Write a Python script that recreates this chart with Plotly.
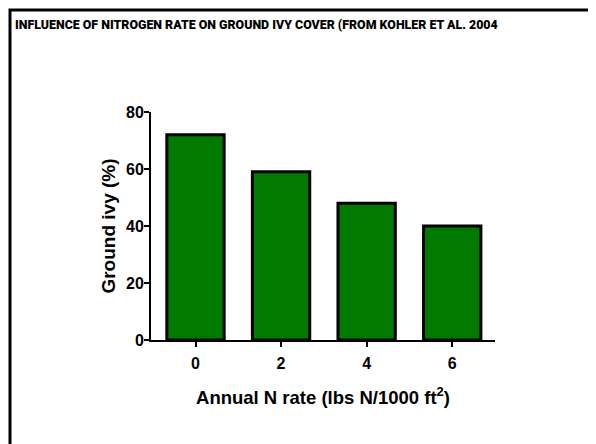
import plotly.graph_objects as go

categories = ["0", "2", "4", "6"]
ivy_cover = [72, 59, 48, 40]
y_ticks = [0, 20, 40, 60, 80]

# page body has an 8px default margin; positions below are screen pixels
OFF = 8
W, H = 596 - OFF, 444 - OFF

def fx(x):  # screen x -> paper fraction
    return (x - OFF) / W

def fy(y):  # screen y -> paper fraction (from bottom)
    return 1 - (y - OFF) / H

fig = go.Figure()
fig.add_trace(go.Bar(
    x=list(range(len(categories))), y=ivy_cover, width=0.67,
    marker=dict(color="#007a00", line=dict(color="black", width=3)),
))

fig.update_layout(
    width=W, height=H, margin=dict(l=0, r=0, t=0, b=0, autoexpand=False),
    plot_bgcolor="rgba(0,0,0,0)", paper_bgcolor="white", showlegend=False,
    font=dict(family="Liberation Sans, Arial", color="black"),
)
fig.update_xaxes(
    domain=[fx(151), fx(495)],
    range=[-0.52, 3.5], tickvals=list(range(len(categories))), ticktext=categories,
    showgrid=False, zeroline=False, showline=True, linecolor="black", linewidth=2,
    ticks="outside", ticklen=5, tickwidth=2, tickcolor="black", ticklabelstandoff=3,
    tickfont=dict(size=16, weight="bold"), automargin=False,
    title=dict(text="Annual N rate (lbs N/1000 ft<sup>2</sup>)", font=dict(size=18.5, weight="bold"), standoff=20),
)
fig.update_yaxes(
    domain=[fy(340), fy(112)],
    range=[0, 80], tickvals=y_ticks,
    showgrid=False, zeroline=False, showline=True, linecolor="black", linewidth=2,
    ticks="outside", ticklen=5, tickwidth=2, tickcolor="black", ticklabelstandoff=-3,
    tickfont=dict(size=16, weight="bold"), automargin=False,
    title=dict(text="Ground ivy (%)", font=dict(size=19, weight="bold"), standoff=5),
)

fig.add_annotation(
    text="INFLUENCE OF NITROGEN RATE ON GROUND IVY COVER (FROM KOHLER ET AL. 2004",
    xref="paper", yref="paper", x=fx(13), y=fy(24), xanchor="left", yanchor="middle",
    showarrow=False, font=dict(family="Roboto", size=12.4, weight=900, color="black"),
)

# frame drawn as an outlined rectangle (screen pixel positions)
fig.add_shape(type="rect", xref="paper", yref="paper", layer="above",
              x0=fx(10), x1=fx(590), y0=fy(460), y1=fy(10),
              line=dict(color="black", width=3), fillcolor="rgba(0,0,0,0)")

fig.write_html("out.html", config={"displayModeBar": False})
